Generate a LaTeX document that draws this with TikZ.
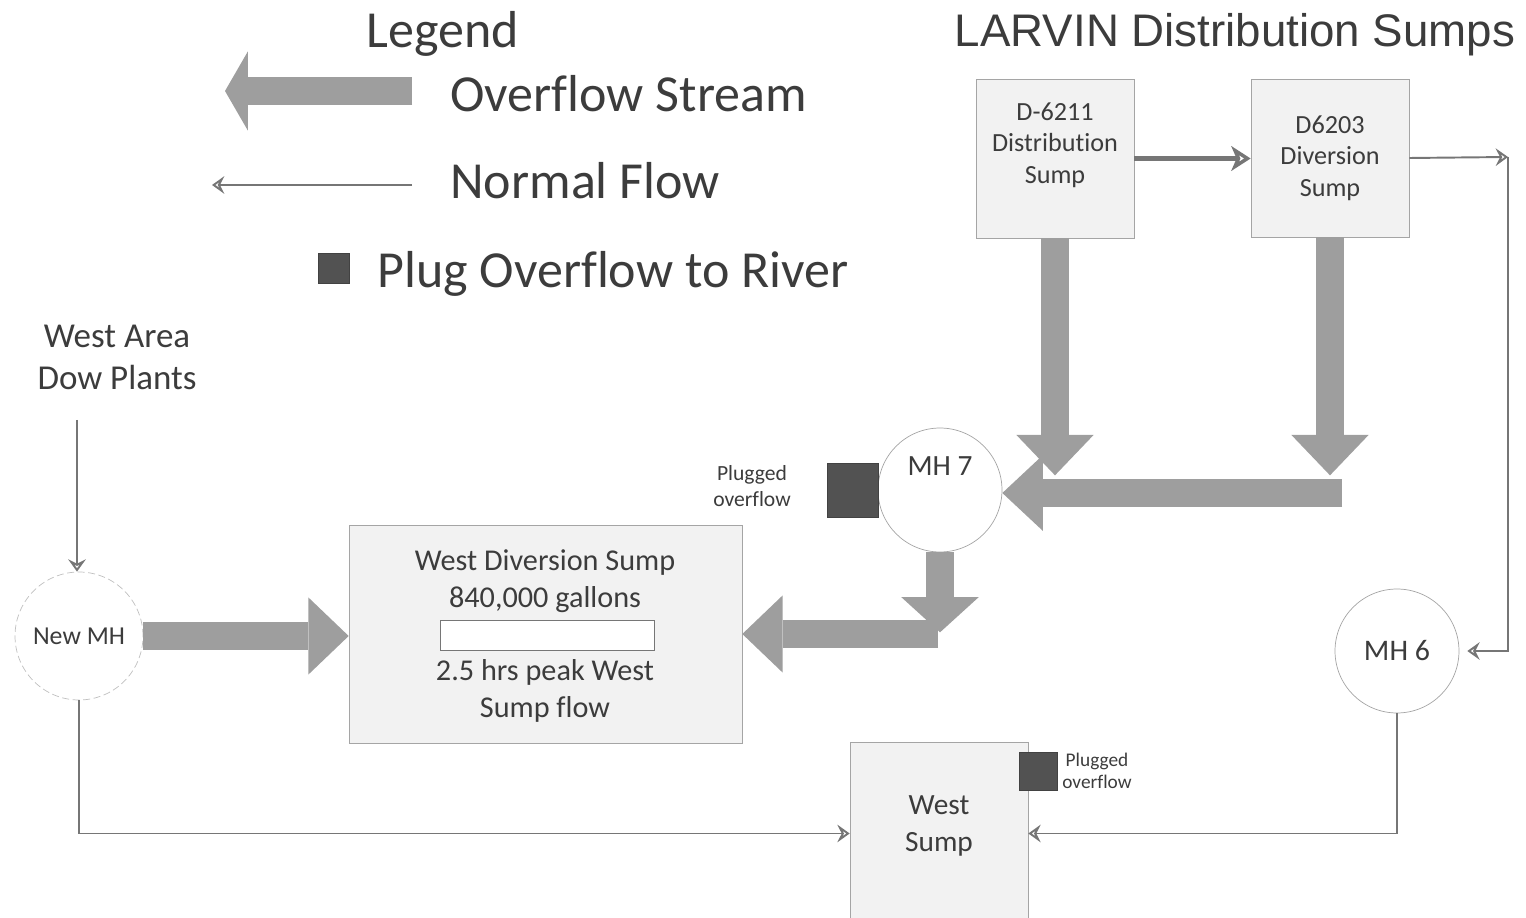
\documentclass[tikz,border=0pt]{standalone}
\usepackage{fontspec}
\setmainfont{Carlito}[Ligatures=NoCommon]
\newfontfamily\arialfont{Liberation Sans}
\usetikzlibrary{arrows.meta,positioning}
\definecolor{txtgray}{RGB}{60,60,60}
\definecolor{boxfill}{RGB}{242,242,242}
\definecolor{boxline}{RGB}{165,165,165}
\definecolor{ovgray}{RGB}{158,158,158}
\definecolor{plugfill}{RGB}{82,82,82}
\definecolor{flowgray}{RGB}{118,118,118}
\newcommand\fsz[2]{\fontsize{#1}{#2}\selectfont}
\begin{document}
\begin{tikzpicture}[x=0.02cm,y=-0.02cm,text=txtgray,
    box/.style={draw=boxline,fill=boxfill,inner sep=0pt,align=center},
    mh/.style={circle,draw=boxline,fill=white,inner sep=0pt,minimum size=2.48cm},
    plug/.style={draw=plugfill!80!black,fill=plugfill,inner sep=0pt},
    flow/.style={draw=flowgray,line width=1.1pt,-{Stealth[open,length=7pt,width=10pt,inset=2.5pt]}},
    over/.style={draw=ovgray,line width=15.4pt,-{Triangle[width=44pt,length=23pt,line width=0pt]}}]
  \useasboundingbox (0,0) rectangle (1526,918);
  % legend
  \node[anchor=base,font=\fsz{29.6}{30}] (leg) at (443,48) {Legend};
  \node[anchor=base,font=\arialfont\fsz{26}{28}] (larvin) at (1235,47) {LARVIN Distribution Sumps};
  \node[anchor=base west,inner sep=0pt,font=\fsz{29.6}{30}] (ovs) at (450,112) {Overflow Stream};
  \node[anchor=base west,inner sep=0pt,font=\fsz{29.6}{30}] (nfl) at (450,199) {Normal Flow};
  \node[anchor=base west,inner sep=0pt,font=\fsz{29.6}{30}] (pov) at (377,288) {Plug Overflow to River};
  \coordinate (lov) at (412,91);
  \coordinate (lnf) at (412,185);
  \draw[over,line width=15.9pt,-{Triangle[width=45pt,length=13pt,line width=0pt]}] (lov) -- ++(-187,0);
  \draw[flow] (lnf) -- ++(-200,0);
  \node[plug,minimum width=0.62cm,minimum height=0.6cm] (lplug) at (333.5,268) {};
  % sumps and manholes
  \node[box,minimum width=3.16cm,minimum height=3.18cm] (d6211) at (1055,158.5) {};
  \node[align=center,font=\fsz{14.9}{17.9}] at ([yshift=0.27cm]d6211.center) {D-6211\\Distribution\\Sump};
  \node[box,minimum width=3.16cm,minimum height=3.16cm,font=\fsz{14.9}{17.9}] (d6203) at (1330,158) {D6203\\Diversion\\Sump};
  \node[box,minimum width=7.86cm,minimum height=4.36cm] (wds) at (545.5,634) {};
  \node[draw=flowgray,fill=white,inner sep=0pt,minimum width=4.28cm,minimum height=0.6cm] (wbar) at (547,635) {};
  \node[align=center,font=\fsz{17.2}{21}] (wdst) at (545,581) {West Diversion Sump\\840,000 gallons};
  \node[align=center,font=\fsz{17.2}{21}] (wdsb) at (545,691) {2.5 hrs peak West\\Sump flow};
  \node[box,minimum width=3.56cm,minimum height=3.66cm] (ws) at (939,833.5) {};
  \node[align=center,font=\fsz{16.7}{21}] (wst) at (939,826) {West\\Sump};
  \node[mh] (mh7) at (940,490) {};
  \node[font=\fsz{16.7}{18}] at ([yshift=0.48cm]mh7.center) {MH 7};
  \node[mh,font=\fsz{17}{18}] (mh6) at (1397,651) {MH 6};
  \node[mh,minimum size=2.56cm,draw=boxline!70,dash pattern=on 4pt off 2pt,font=\fsz{14.7}{16}] (nmh) at (79,636) {New MH};
  \node[align=center,font=\fsz{19.9}{23.9}] (wa) at (117,357) {West Area\\Dow Plants};
  % plugs
  \node[plug,minimum width=1.02cm,minimum height=1.08cm] (plg7) at (852.5,490) {};
  \node[align=center,font=\fsz{12.3}{14.8}] (plt7) at (752,486) {Plugged\\overflow};
  \node[plug,minimum size=0.76cm] (plgw) at (1038,771) {};
  \node[align=center,font=\fsz{11}{12.5}] (pltw) at (1097,771) {Plugged\\overflow};
  % normal flow
  \coordinate (wsrc) at (77,420);
  \coordinate (cor) at (1508,157);
  \draw[flow] (wsrc) -- (wsrc |- nmh.north);
  \draw[flow] (nmh.south) |- (ws.west);
  \draw[flow] (mh6.south) |- (ws.east);
  \draw[flow] (d6203.east) -- (cor);
  \draw[flow] (cor) |- ([xshift=0.16cm]mh6.east);
  \draw[flow,line width=2.3pt,-{Stealth[open,length=11pt,width=14pt,inset=3pt]}] (d6211.east) -- (d6211.east -| d6203.west);
  % overflow streams
  \coordinate (ovr) at (1342,493);
  \coordinate (elb) at (938,634);
  \draw[over] (d6211.south) -- ++(0,237);
  \draw[over] (d6203.south) -- ++(0,238);
  \draw[over,-{Triangle[width=43pt,length=23pt,line width=0pt]}] (ovr) -- (ovr -| mh7.east);
  \draw[over] (elb) -- (wds.east);
  \draw[over,-{Triangle[width=44pt,length=20pt,line width=0pt]}] (mh7.south) -- ++(0,80);
  \draw[over] (nmh.east) -- (nmh.east -| wds.west);
\end{tikzpicture}
\end{document}
